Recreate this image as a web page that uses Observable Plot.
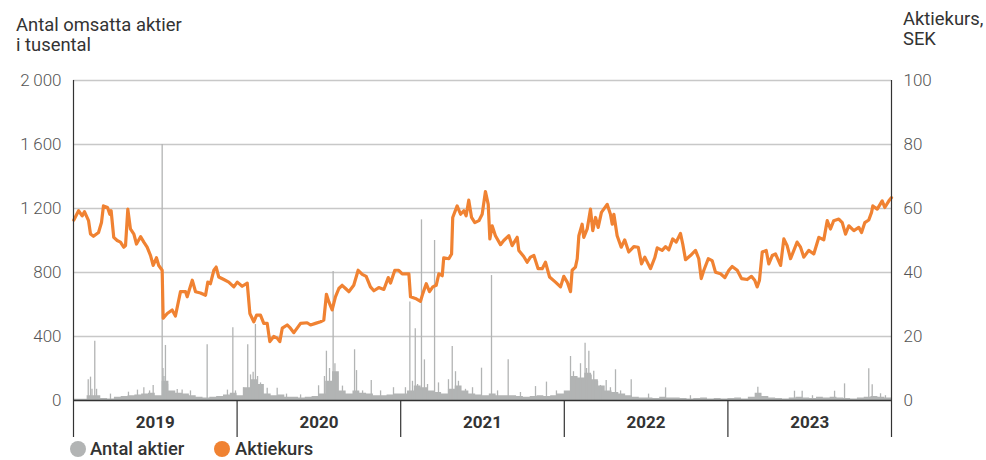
<!DOCTYPE html>
<html><head><meta charset="utf-8">
<script src="https://cdn.jsdelivr.net/npm/d3@7"></script>
<script src="https://cdn.jsdelivr.net/npm/@observablehq/plot@0.6"></script>
<style>
body{margin:0;background:#fff;font-family:Roboto,sans-serif;}
#wrap{position:relative;width:986px;height:460px;overflow:hidden;}
.t{position:absolute;font-size:18.4px;color:#333;line-height:20px;font-weight:400;white-space:nowrap;}
.lg{position:absolute;top:441px;font-size:18.4px;line-height:16px;color:#333;font-weight:500;white-space:nowrap;}
.dot{position:absolute;width:16px;height:16px;border-radius:50%;top:441px;}
</style></head><body>
<div id="wrap">
  <div class="t" style="left:16px;top:15px;">Antal omsatta aktier<br>i tusental</div>
  <div class="t" style="left:903px;top:9px;">Aktiekurs,<br>SEK</div>
  <div class="dot" style="left:70px;background:#b2b4b4"></div>
  <div class="lg" style="left:90px;">Antal aktier</div>
  <div class="dot" style="left:214px;background:#F08232"></div>
  <div class="lg" style="left:235px;">Aktiekurs</div>
</div>
<script>
// Price (SEK), time as years since 2019-01-01
const priceT = [0.002,0.031,0.053,0.067,0.092,0.104,0.122,0.153,0.171,0.183,0.208,0.222,0.230,0.246,0.267,0.287,0.307,0.318,0.332,0.348,0.369,0.385,0.410,0.430,0.450,0.471,0.487,0.507,0.521,0.542,0.548,0.573,0.603,0.623,0.654,0.685,0.695,0.726,0.746,0.776,0.807,0.821,0.837,0.858,0.872,0.888,0.919,0.949,0.980,
1.001,1.031,1.062,1.078,1.102,1.119,1.143,1.163,1.184,1.200,1.224,1.245,1.261,1.276,1.306,1.326,1.347,1.388,1.428,1.449,1.479,1.510,1.530,1.546,1.561,1.581,1.601,1.622,1.642,1.663,1.683,1.713,1.740,1.765,1.789,1.815,1.836,1.866,1.897,1.924,1.938,1.964,1.988,
2.009,2.050,2.060,2.090,2.121,2.135,2.156,2.176,2.196,2.217,2.233,2.254,2.263,2.294,2.311,2.318,2.345,2.366,2.386,2.400,2.416,2.433,2.453,2.478,2.498,2.518,2.535,2.545,2.559,2.579,2.610,2.630,2.661,2.681,2.712,2.722,2.752,2.773,2.793,2.814,2.840,2.865,2.885,2.910,2.946,2.977,2.997,
3.018,3.038,3.048,3.068,3.079,3.089,3.109,3.119,3.140,3.160,3.174,3.191,3.207,3.227,3.262,3.282,3.293,3.303,3.323,3.348,3.369,3.394,3.425,3.452,3.472,3.492,3.527,3.553,3.568,3.598,3.619,3.639,3.663,3.684,3.710,3.724,3.741,3.771,3.802,3.822,3.837,3.853,3.880,3.904,3.924,3.955,3.981,
4.006,4.026,4.057,4.083,4.118,4.144,4.164,4.179,4.193,4.210,4.234,4.250,4.271,4.291,4.322,4.342,4.362,4.383,4.423,4.444,4.464,4.494,4.525,4.556,4.586,4.607,4.627,4.647,4.678,4.699,4.719,4.739,4.770,4.800,4.817,4.837,4.861,4.878,4.886,4.913,4.943,4.959,4.984,5.000];
const priceSEK = [56.4,59.3,57.7,59,56.2,52,51.3,52.5,55.6,60.8,60.3,58.2,59.3,51,50,49.5,47.9,48.4,59.8,53.6,52,48.9,51.2,49.5,47.9,45.3,42.2,44.6,42.2,40.7,25.7,27.2,28.3,26.4,34,34,32.4,37.6,34,33.6,32.9,37,36.5,40.7,41.7,38.6,37.8,37,35.5,
37,35.7,36.7,27.2,24.6,26.7,26.7,24.1,24.1,18.4,20,19.5,18.4,22.6,23.6,22.6,21.2,24.1,24.3,23.6,24.1,24.6,25.1,33.2,30.8,28.3,32.4,35,36,35,34,36,40.7,39.4,38.8,35.5,34.3,35.3,34.7,38.4,36.7,40.7,40.7,
39.6,39.6,32.4,31.9,31,33.4,36.5,34,35.5,36,39.6,39,44.6,44.3,45.8,57.2,60.8,58.2,59.3,57.7,62.6,57.2,55.6,56.2,58.2,65.3,61.3,50.5,54.6,51.5,48.7,50,51.5,48.4,51,46.9,45,43.2,44.8,45.3,41.2,41.2,43.2,38.6,37,35.5,38.8,
37,34,40.7,41.7,44.3,51.5,55.1,51,53.6,59.8,53.1,57.2,54.1,58.8,61.3,58.2,55.1,58.2,51.5,47.9,50.2,46.4,48.1,47.9,42.7,44.8,41.2,44.6,47.7,46.9,48.1,47.1,50.5,49.5,52.2,48.9,44,45.3,46.9,44.3,38.1,40.7,44.3,43.7,40.1,39.6,38.4,
40.7,41.9,40.7,38.1,37.8,38.8,37.6,35.5,37.6,46.4,46.9,42.7,45.3,45.8,42.2,50.5,48.4,44.3,49.5,47.9,44.8,46.9,45.8,51,50.2,56.2,53.6,56.2,56.7,55.6,52,54.6,53.1,54.1,52.5,55.6,56.4,58.8,60.8,59.8,62.4,60.3,62.4,63.4];

// Traded shares (thousands): half-month base level
const volBase = [8,8,30,30,12,10,20,25,30,35,40,45,30,120,60,45,40,30,20,15,20,25,35,45,
30,80,130,100,40,30,35,20,20,15,20,25,40,120,180,60,40,60,45,40,30,30,35,40,
40,60,90,80,60,50,40,70,90,60,40,35,30,40,30,30,30,25,20,25,30,25,30,40,
60,150,140,170,130,90,60,50,40,30,20,15,15,12,20,15,15,12,10,12,15,10,12,10,
12,15,10,20,45,25,15,12,10,15,20,15,12,20,15,20,15,12,10,15,20,25,20,15];
// Traded shares (thousands): single-day peaks
const spikeT = [0.090,0.104,0.113,0.130,0.141,0.226,0.336,0.391,0.430,0.465,0.487,0.542,0.547,0.553,0.562,0.575,0.634,0.664,0.715,0.817,0.941,0.974,0.990,
1.039,1.065,1.082,1.098,1.112,1.125,1.143,1.184,1.245,1.302,1.388,1.498,1.534,1.546,1.565,1.587,1.598,1.614,1.644,1.718,1.730,1.767,1.820,1.877,1.956,
2.029,2.056,2.072,2.089,2.103,2.127,2.145,2.164,2.207,2.231,2.292,2.315,2.335,2.353,2.396,2.439,2.494,2.555,2.592,2.657,2.732,2.824,2.891,2.952,
3.038,3.056,3.075,3.099,3.127,3.136,3.150,3.164,3.180,3.203,3.221,3.256,3.282,3.313,3.344,3.409,3.515,3.619,3.771,
4.183,4.199,4.407,4.454,4.517,4.652,4.713,4.861,4.882,4.933,4.963];
const spikeV = [129,146,70,370,70,40,52,65,79,60,94,1600,200,150,344,100,69,65,60,348,65,454,60,
80,348,160,177,475,150,110,77,77,40,35,92,150,308,200,806,230,150,90,317,187,60,125,60,80,
80,615,120,448,100,1129,254,100,1000,110,130,337,180,120,70,80,202,781,60,254,50,87,115,60,
275,180,150,230,358,200,308,160,183,120,94,125,80,192,60,129,40,79,30,
83,40,58,58,30,58,104,198,98,42,30];

// Axis ticks
const yTicks = [0,400,800,1200,1600,2000];
const years = [2019,2020,2021,2022,2023];

const K = 20; // 100 SEK <-> 2000 thousand shares
const priceData = priceT.map((t,i)=>({t:2019+t, p:priceSEK[i]*K}));
const volData = volBase.map((v,i)=>({t:2019+i/24, v}));
volData.push({t:2024, v:volBase[volBase.length-1]});
const spikes = spikeT.map((t,i)=>({t:2019+t, v:spikeV[i]}));

const fmt = d3.formatLocale({decimal:",", thousands:"\u2009", grouping:[3], currency:["","kr"]}).format(",d");
const GRAY = "#b2b4b4";

const chart = Plot.plot({
  width:986, height:460, marginLeft:73, marginRight:95, marginTop:80, marginBottom:60,
  style:{fontFamily:"Roboto, sans-serif", fontSize:"17px", background:"transparent", overflow:"visible"},
  x:{type:"linear", domain:[2019,2024]},
  y:{domain:[0,2000]},
  marks:[
    Plot.ruleY(yTicks.slice(1), {stroke:"#c8c8c8", strokeWidth:1.5}),
    Plot.areaY(volData, {x:"t", y:"v", curve:"step-after", fill:GRAY}),
    Plot.ruleX(spikes, {x:"t", y1:0, y2:"v", stroke:GRAY, strokeWidth:1.3}),
    Plot.line(priceData, {x:"t", y:"p", stroke:"#F08232", strokeWidth:3.2, strokeLinejoin:"round"}),
    Plot.ruleX([2019, 2024], {stroke:"#333", strokeWidth:1.2}),
    Plot.ruleY([0], {stroke:"#333", strokeWidth:1.6}),
    Plot.axisY({ticks:yTicks, tickSize:0, tickPadding:12, tickFormat:fmt, anchor:"left", label:null, fill:"#555", fontWeight:300}),
    Plot.axisY({ticks:yTicks, tickSize:0, tickPadding:12, tickFormat:d=>String(d/K), anchor:"right", label:null, fill:"#555", fontWeight:300}),
    Plot.axisX({ticks:[...years, 2024], tickSize:37, tickFormat:()=>"", anchor:"bottom", label:null, stroke:"#333", strokeWidth:1.2}),
    Plot.axisX({ticks:years.map(y=>y+0.5), tickSize:0, tickPadding:15, tickFormat:d=>String(Math.floor(d)), anchor:"bottom", label:null, fill:"#333", fontWeight:700})
  ]
});
chart.style.position = "absolute";
chart.style.left = "0px";
chart.style.top = "0px";
document.getElementById("wrap").prepend(chart);
</script>
</body></html>
